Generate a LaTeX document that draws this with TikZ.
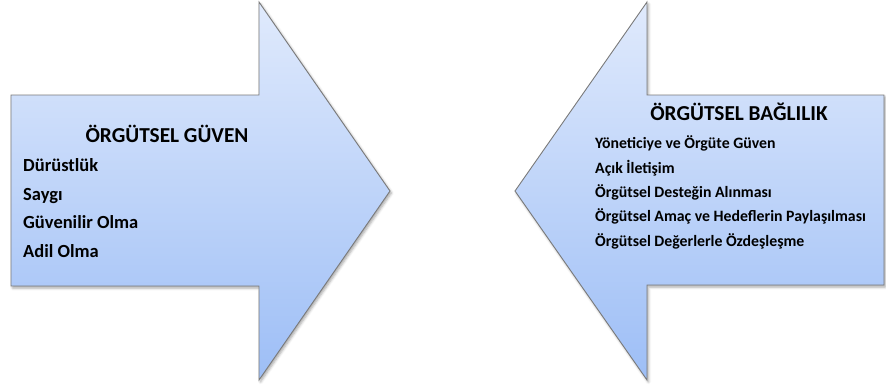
\documentclass[tikz,border=0pt]{standalone}
\usepackage{fontspec}
\setmainfont{Carlito}[BoldFont={Carlito Bold}]
\usetikzlibrary{shadows.blur}
\definecolor{topblue}{HTML}{E0EAFC}
\definecolor{botblue}{HTML}{9DBEF6}
\definecolor{edgegrey}{HTML}{7A7A7A}
\tikzset{
  arrowshape/.style={draw=edgegrey, line width=0.9bp, line join=miter,
    top color=topblue, bottom color=botblue,
    blur shadow={shadow xshift=1.5bp, shadow yshift=-2bp, shadow blur radius=2.5bp, shadow opacity=35}},
  titletxt/.style={inner sep=0pt, anchor=base, font=\bfseries\fontsize{21.3bp}{25bp}\selectfont},
  leftitem/.style={inner sep=0pt, anchor=base west, font=\bfseries\fontsize{18.5bp}{22bp}\selectfont},
  rightitem/.style={inner sep=0pt, anchor=base west, font=\bfseries\fontsize{15.8bp}{19bp}\selectfont}
}
\begin{document}
\begin{tikzpicture}[x=1bp,y=-1bp]
\useasboundingbox (0,0) rectangle (886,386);
% left arrow (pointing right)
\path[arrowshape] (11,95) -- (259,95) -- (259,2) -- (390,191) -- (259,380) -- (259,286) -- (11,286) -- cycle;
% right arrow (pointing left)
\path[arrowshape] (884,95) -- (647,95) -- (647,2) -- (515,191) -- (647,380) -- (647,285) -- (884,285) -- cycle;
% left texts
\node[titletxt] (lt) at (167,142) {ÖRGÜTSEL GÜVEN};
\node[leftitem] (l1) at (23,171) {Dürüstlük};
\node[leftitem] (l2) at (23,200) {Saygı};
\node[leftitem] (l3) at (23,228) {Güvenilir Olma};
\node[leftitem] (l4) at (23,257) {Adil Olma};
% right texts
\node[titletxt] (rt) at (739,120) {ÖRGÜTSEL BAĞLILIK};
\node[rightitem] (r1) at (595,148) {Yöneticiye ve Örgüte Güven};
\node[rightitem] (r2) at (595,173) {Açık İletişim};
\node[rightitem] (r3) at (595,197) {Örgütsel Desteğin Alınması};
\node[rightitem] (r4) at (595,221) {Örgütsel Amaç ve Hedeflerin Paylaşılması};
\node[rightitem] (r5) at (595,246) {Örgütsel Değerlerle Özdeşleşme};
\end{tikzpicture}
\end{document}
